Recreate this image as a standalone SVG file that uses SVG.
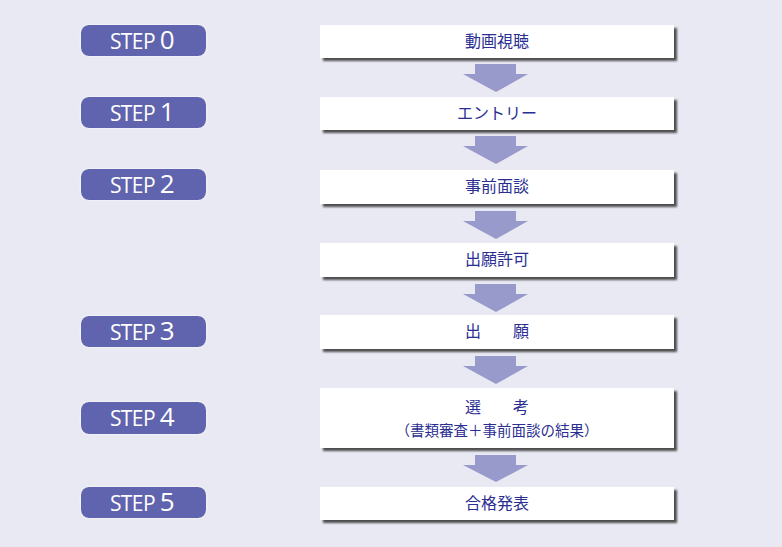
<svg xmlns="http://www.w3.org/2000/svg" width="782" height="547" viewBox="0 0 782 547">
<defs>
<filter id="sh" x="-5%" y="-20%" width="115%" height="160%">
<feDropShadow dx="3" dy="3" stdDeviation="1.3" flood-color="#333" flood-opacity="0.85"/>
</filter>
<filter id="glow" x="-10%" y="-30%" width="120%" height="160%">
<feDropShadow dx="0" dy="0" stdDeviation="0.8" flood-color="#ffffff" flood-opacity="0.9"/>
</filter>
</defs>
<style>
.pill{fill:#6163ae;filter:url(#glow)}
.st{font-family:"Open Sans","Liberation Sans",sans-serif;fill:#ffffff;text-anchor:middle;letter-spacing:-0.6px}
.st .w{font-size:21px}
.st .n{font-size:26px}
.box{fill:#ffffff;filter:url(#sh)}
.bt{font-family:"Noto Sans CJK JP","Noto Sans",sans-serif;font-size:16px;fill:#2a2e92;text-anchor:middle}
.bs{font-size:14.5px}
.arr{fill:#989acb}
</style>
<rect width="782" height="547" fill="#e9e9f3"/>

<g id="step0"><rect class="pill" x="81" y="25" width="125" height="31" rx="8"/><text class="st" x="142" y="49"><tspan class="w">STEP </tspan><tspan class="n">0</tspan></text></g>
<g id="step1"><rect class="pill" x="81" y="97" width="125" height="31" rx="8"/><text class="st" x="142" y="121"><tspan class="w">STEP </tspan><tspan class="n">1</tspan></text></g>
<g id="step2"><rect class="pill" x="81" y="169" width="125" height="31" rx="8"/><text class="st" x="142" y="193"><tspan class="w">STEP </tspan><tspan class="n">2</tspan></text></g>
<g id="step3"><rect class="pill" x="81" y="316" width="125" height="31" rx="8"/><text class="st" x="142" y="340"><tspan class="w">STEP </tspan><tspan class="n">3</tspan></text></g>
<g id="step4"><rect class="pill" x="81" y="402" width="125" height="32" rx="8"/><text class="st" x="142" y="426"><tspan class="w">STEP </tspan><tspan class="n">4</tspan></text></g>
<g id="step5"><rect class="pill" x="81" y="487" width="125" height="31" rx="8"/><text class="st" x="142" y="511"><tspan class="w">STEP </tspan><tspan class="n">5</tspan></text></g>

<g id="connectors">
<polygon class="arr" points="475,64 516,64 516,74 528,74 496,92 463,74 475,74"/>
<polygon class="arr" points="475,136 516,136 516,146 528,146 496,164 463,146 475,146"/>
<polygon class="arr" points="475,211 516,211 516,221 528,221 496,239 463,221 475,221"/>
<polygon class="arr" points="475,284 516,284 516,294 528,294 496,312 463,294 475,294"/>
<polygon class="arr" points="475,356 516,356 516,366 528,366 496,384 463,366 475,366"/>
<polygon class="arr" points="475,455 516,455 516,465 528,465 496,482 463,465 475,465"/>
</g>

<g id="n0"><rect class="box" x="320" y="25" width="354" height="33"/><text class="bt" x="497" y="47">動画視聴</text></g>
<g id="n1"><rect class="box" x="320" y="97" width="354" height="33"/><text class="bt" x="497" y="119">エントリー</text></g>
<g id="n2"><rect class="box" x="320" y="170" width="354" height="34"/><text class="bt" x="497" y="192">事前面談</text></g>
<g id="n3"><rect class="box" x="320" y="243" width="354" height="34"/><text class="bt" x="497" y="265">出願許可</text></g>
<g id="n4"><rect class="box" x="320" y="315" width="354" height="34"/><text class="bt" x="497" y="337">出　　願</text></g>
<g id="n5"><rect class="box" x="320" y="388" width="354" height="60"/><text class="bt" x="497" y="413">選　　考</text><text class="bt bs" x="497" y="436">（書類審査＋事前面談の結果）</text></g>
<g id="n6"><rect class="box" x="320" y="487" width="354" height="33"/><text class="bt" x="497" y="509">合格発表</text></g>
</svg>
